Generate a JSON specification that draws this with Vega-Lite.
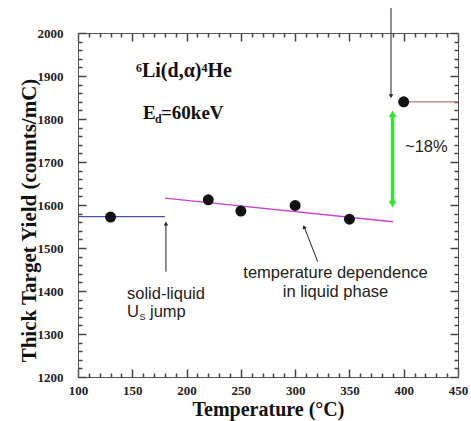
{
  "$schema": "https://vega.github.io/schema/vega-lite/v6.json",
  "width": 380,
  "height": 344,
  "autosize": "none",
  "padding": {"left": 78, "top": 33, "right": 13, "bottom": 44},
  "background": "white",
  "config": {
    "view": {"stroke": null},
    "axis": {
      "grid": false,
      "domainColor": "#555",
      "labelFont": "Liberation Serif",
      "labelFontWeight": "bold",
      "labelFontSize": 13,
      "labelColor": "#222",
      "titleFont": "Liberation Serif",
      "titleFontWeight": "bold",
      "titleFontSize": 20,
      "titleColor": "#111"
    }
  },
  "datasets": {
    "pts": [
      {"x": 130, "y": 1572}, {"x": 220, "y": 1612}, {"x": 250, "y": 1586},
      {"x": 300, "y": 1599}, {"x": 350, "y": 1567}, {"x": 400, "y": 1840}
    ],
    "fits": [
      {"seg": "solid", "x": 100, "y": 1573, "x2": 180, "y2": 1573},
      {"seg": "liquid", "x": 180, "y": 1616, "x2": 390, "y2": 1561},
      {"seg": "high", "x": 395, "y": 1840, "x2": 450, "y2": 1840}
    ],
    "shafts": [
      {"x": 388.3, "y": 2058, "x2": 388.3, "y2": 1856},
      {"x": 181, "y": 1445, "x2": 181, "y2": 1554},
      {"x": 320.8, "y": 1468, "x2": 308.5, "y2": 1548}
    ],
    "headDown": [{"x": 388.3, "y": 1853}],
    "headUp": [{"x": 181, "y": 1557}],
    "headDiag": [{"x": 308.2, "y": 1549}],
    "green": [{"x": 389.7, "y": 1606, "x2": 389.7, "y2": 1810}],
    "greenUp": [{"x": 389.7, "y": 1812}],
    "greenDown": [{"x": 389.7, "y": 1602}],
    "formula": [{"x": 153.4, "y": 1898, "t": "⁶Li(d,α)⁴He"}],
    "eMain": [{"x": 159.9, "y": 1801, "t": "E"}],
    "eSub": [{"x": 159.9, "y": 1801, "t": "d"}],
    "eRest": [{"x": 159.9, "y": 1801, "t": "=60keV"}],
    "leftText": [
      {"x": 145.1, "y": 1381, "t": "solid-liquid"},
      {"x": 145.1, "y": 1339.5, "t": "U"},
      {"x": 401.2, "y": 1723, "t": "~18%"}
    ],
    "uSub": [{"x": 145.1, "y": 1339.5, "t": "S"}],
    "uRest": [{"x": 145.1, "y": 1339.5, "t": "jump"}],
    "centerText": [
      {"x": 337.2, "y": 1430, "t": "temperature dependence"},
      {"x": 337.2, "y": 1386.7, "t": "in liquid phase"}
    ]
  },
  "resolve": {"axis": {"x": "independent", "y": "independent"}},
  "encoding": {
    "x": {"field": "x", "type": "quantitative", "scale": {"domain": [100, 450], "nice": false, "zero": false}, "axis": null},
    "y": {"field": "y", "type": "quantitative", "scale": {"domain": [1200, 2000], "nice": false, "zero": false}, "axis": null}
  },
  "layer": [
    {
      "data": {"name": "pts"},
      "mark": {"type": "point", "opacity": 0},
      "encoding": {
        "x": {
          "field": "x", "type": "quantitative",
          "scale": {"domain": [100, 450], "nice": false, "zero": false},
          "axis": {
            "orient": "bottom",
            "title": "Temperature (°C)",
            "values": [100, 150, 200, 250, 300, 350, 400, 450],
            "format": "d",
            "ticks": false,
            "labelFlush": false,
            "labelPadding": 7,
            "titleBaseline": "alphabetic",
            "titleY": 38
          }
        },
        "y": {
          "field": "y", "type": "quantitative",
          "scale": {"domain": [1200, 2000], "nice": false, "zero": false},
          "axis": {
            "orient": "left",
            "title": "Thick Target Yield (counts/mC)",
            "values": [1200, 1300, 1400, 1500, 1600, 1700, 1800, 1900, 2000],
            "format": "d",
            "ticks": false,
            "labelFlush": false,
            "labelPadding": 15,
            "titleFontSize": 21,
            "titleBaseline": "alphabetic",
            "titleX": -43,
            "titleY": 187
          }
        }
      }
    },
    {
      "data": {"name": "pts"},
      "mark": {"type": "point", "opacity": 0},
      "encoding": {
        "x": {
          "field": "x", "type": "quantitative",
          "scale": {"domain": [100, 450], "nice": false, "zero": false},
          "axis": {"orient": "top", "title": "", "labels": false, "values": [100, 150, 200, 250, 300, 350, 400, 450], "ticks": true, "tickSize": -8, "tickColor": "#444", "tickWidth": 1.5}
        },
        "y": {
          "field": "y", "type": "quantitative",
          "scale": {"domain": [1200, 2000], "nice": false, "zero": false},
          "axis": {"orient": "right", "title": "", "labels": false, "values": [1200, 1300, 1400, 1500, 1600, 1700, 1800, 1900, 2000], "ticks": true, "tickSize": -8, "tickColor": "#444", "tickWidth": 1.5}
        }
      }
    },
    {
      "data": {"name": "pts"},
      "mark": {"type": "point", "opacity": 0},
      "encoding": {
        "x": {
          "field": "x", "type": "quantitative",
          "scale": {"domain": [100, 450], "nice": false, "zero": false},
          "axis": {"orient": "bottom", "title": "", "labels": false, "domain": false, "values": [100, 150, 200, 250, 300, 350, 400, 450], "ticks": true, "tickSize": -8, "tickColor": "#444", "tickWidth": 1.5}
        },
        "y": {
          "field": "y", "type": "quantitative",
          "scale": {"domain": [1200, 2000], "nice": false, "zero": false},
          "axis": {"orient": "left", "title": "", "labels": false, "domain": false, "values": [1200, 1300, 1400, 1500, 1600, 1700, 1800, 1900, 2000], "ticks": true, "tickSize": -8, "tickColor": "#444", "tickWidth": 1.5}
        }
      }
    },
    {
      "data": {"name": "pts"},
      "mark": {"type": "point", "opacity": 0},
      "encoding": {
        "x": {
          "field": "x", "type": "quantitative",
          "scale": {"domain": [100, 450], "nice": false, "zero": false},
          "axis": {"orient": "bottom", "title": "", "labels": false, "domain": false, "values": [110,120,130,140,160,170,180,190,210,220,230,240,260,270,280,290,310,320,330,340,360,370,380,390,410,420,430,440], "ticks": true, "tickSize": -4, "tickColor": "#444", "tickWidth": 1.5}
        },
        "y": {
          "field": "y", "type": "quantitative",
          "scale": {"domain": [1200, 2000], "nice": false, "zero": false},
          "axis": {"orient": "left", "title": "", "labels": false, "domain": false, "values": [1220,1240,1260,1280,1320,1340,1360,1380,1420,1440,1460,1480,1520,1540,1560,1580,1620,1640,1660,1680,1720,1740,1760,1780,1820,1840,1860,1880,1920,1940,1960,1980], "ticks": true, "tickSize": -4, "tickColor": "#444", "tickWidth": 1.5}
        }
      }
    },
    {
      "data": {"name": "pts"},
      "mark": {"type": "point", "opacity": 0},
      "encoding": {
        "x": {
          "field": "x", "type": "quantitative",
          "scale": {"domain": [100, 450], "nice": false, "zero": false},
          "axis": {"orient": "top", "title": "", "labels": false, "domain": false, "values": [110,120,130,140,160,170,180,190,210,220,230,240,260,270,280,290,310,320,330,340,360,370,380,390,410,420,430,440], "ticks": true, "tickSize": -4, "tickColor": "#444", "tickWidth": 1.5}
        },
        "y": {
          "field": "y", "type": "quantitative",
          "scale": {"domain": [1200, 2000], "nice": false, "zero": false},
          "axis": {"orient": "right", "title": "", "labels": false, "domain": false, "values": [1220,1240,1260,1280,1320,1340,1360,1380,1420,1440,1460,1480,1520,1540,1560,1580,1620,1640,1660,1680,1720,1740,1760,1780,1820,1840,1860,1880,1920,1940,1960,1980], "ticks": true, "tickSize": -4, "tickColor": "#444", "tickWidth": 1.5}
        }
      }
    },
    {
      "data": {"name": "fits"},
      "mark": {"type": "rule", "strokeWidth": 1.3},
      "encoding": {
        "x2": {"field": "x2"},
        "y2": {"field": "y2"},
        "color": {
          "field": "seg", "type": "nominal", "legend": null,
          "scale": {"domain": ["solid", "liquid", "high"], "range": ["#4d4fa8", "#c844c8", "#b87884"]}
        }
      }
    },
    {
      "data": {"name": "shafts"},
      "mark": {"type": "rule", "strokeWidth": 1, "color": "#222"},
      "encoding": {"x2": {"field": "x2"}, "y2": {"field": "y2"}}
    },
    {
      "data": {"name": "headDown"},
      "mark": {"type": "point", "shape": "triangle-down", "filled": true, "size": 20, "color": "#222", "opacity": 1}
    },
    {
      "data": {"name": "headUp"},
      "mark": {"type": "point", "shape": "triangle-up", "filled": true, "size": 20, "color": "#222", "opacity": 1}
    },
    {
      "data": {"name": "headDiag"},
      "mark": {"type": "point", "shape": "triangle-up", "filled": true, "size": 20, "color": "#222", "opacity": 1, "angle": 338.6}
    },
    {
      "data": {"name": "green"},
      "mark": {"type": "rule", "strokeWidth": 3.5, "color": "#2ee82e"},
      "encoding": {"x2": {"field": "x2"}, "y2": {"field": "y2"}}
    },
    {
      "data": {"name": "greenUp"},
      "mark": {"type": "point", "shape": "triangle-up", "filled": true, "size": 60, "color": "#2ee82e", "opacity": 1}
    },
    {
      "data": {"name": "greenDown"},
      "mark": {"type": "point", "shape": "triangle-down", "filled": true, "size": 60, "color": "#2ee82e", "opacity": 1}
    },
    {
      "data": {"name": "pts"},
      "mark": {"type": "point", "shape": "circle", "filled": true, "size": 120, "color": "#111", "opacity": 1}
    },
    {
      "data": {"name": "formula"},
      "mark": {"type": "text", "font": "Liberation Serif", "fontWeight": "bold", "fontSize": 20, "align": "left", "baseline": "alphabetic", "color": "#111"},
      "encoding": {"text": {"field": "t"}}
    },
    {
      "data": {"name": "eMain"},
      "mark": {"type": "text", "font": "Liberation Serif", "fontWeight": "bold", "fontSize": 19, "align": "left", "baseline": "alphabetic", "color": "#111"},
      "encoding": {"text": {"field": "t"}}
    },
    {
      "data": {"name": "eSub"},
      "mark": {"type": "text", "font": "Liberation Serif", "fontWeight": "bold", "fontSize": 12, "align": "left", "baseline": "alphabetic", "color": "#111", "dx": 12, "dy": 4},
      "encoding": {"text": {"field": "t"}}
    },
    {
      "data": {"name": "eRest"},
      "mark": {"type": "text", "font": "Liberation Serif", "fontWeight": "bold", "fontSize": 19, "align": "left", "baseline": "alphabetic", "color": "#111", "dx": 18},
      "encoding": {"text": {"field": "t"}}
    },
    {
      "data": {"name": "leftText"},
      "mark": {"type": "text", "font": "Liberation Sans", "fontSize": 16.5, "align": "left", "baseline": "alphabetic", "color": "#222"},
      "encoding": {"text": {"field": "t"}}
    },
    {
      "data": {"name": "uSub"},
      "mark": {"type": "text", "font": "Liberation Sans", "fontSize": 9, "align": "left", "baseline": "alphabetic", "color": "#222", "dx": 12.5, "dy": 3},
      "encoding": {"text": {"field": "t"}}
    },
    {
      "data": {"name": "uRest"},
      "mark": {"type": "text", "font": "Liberation Sans", "fontSize": 16.5, "align": "left", "baseline": "alphabetic", "color": "#222", "dx": 23},
      "encoding": {"text": {"field": "t"}}
    },
    {
      "data": {"name": "centerText"},
      "mark": {"type": "text", "font": "Liberation Sans", "fontSize": 16.5, "align": "center", "baseline": "alphabetic", "color": "#222"},
      "encoding": {"text": {"field": "t"}}
    }
  ]
}
